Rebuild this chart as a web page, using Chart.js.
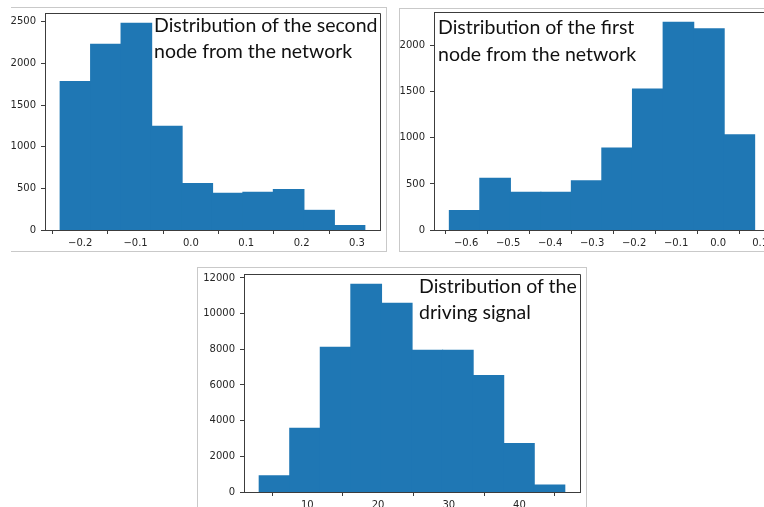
<!DOCTYPE html>
<html>
<head>
<meta charset="utf-8">
<script src="https://cdn.jsdelivr.net/npm/chart.js@4/dist/chart.umd.min.js"></script>
<style>
  html, body { margin: 0; padding: 0; background: #fff; }
  body { width: 764px; height: 507px; position: relative; overflow: hidden; }
  .panel { position: absolute; }
  .frame { position: absolute; border: 0 solid #c9c9c9; }
  .note { position: absolute; font-family: Lato, "Open Sans", sans-serif; font-size: 19.5px; line-height: 23px; color: #111; white-space: nowrap; pointer-events: none; }
</style>
</head>
<body>
  <div class="frame" style="left:11px;top:7px;width:375px;height:243px;border-top-width:1px;border-right-width:1px;border-bottom-width:1px"></div>
  <div class="frame" style="left:399px;top:8px;width:400px;height:242px;border-top-width:1px;border-left-width:1px;border-bottom-width:1px"></div>
  <div class="frame" style="left:197px;top:267px;width:388px;height:260px;border-top-width:1px;border-left-width:1px;border-right-width:1px"></div>

  <div class="panel" style="left:0px;top:0px"><canvas id="hist-second" width="384" height="252"></canvas></div>
  <div class="panel" style="left:389px;top:0px"><canvas id="hist-first" width="385" height="252"></canvas></div>
  <div class="panel" style="left:199px;top:261px"><canvas id="hist-drive" width="385" height="253"></canvas></div>

  <div class="note" style="left:154px;top:13px">Distribution of the second</div>
  <div class="note" style="left:154px;top:39px">node from the network</div>
  <div class="note" style="left:438px;top:15px">Distribution of the first</div>
  <div class="note" style="left:438px;top:42px">node from the network</div>
  <div class="note" style="left:419px;top:274px">Distribution of the</div>
  <div class="note" style="left:419px;top:300px">driving signal</div>

<script>
// second node (top left)
const secondEdges = [-0.236, -0.181, -0.126, -0.071, -0.016, 0.039, 0.094, 0.149, 0.204, 0.259, 0.314];
const secondCounts = [1782, 2229, 2480, 1244, 558, 439, 451, 486, 235, 52];
const secondXTicks = [-0.2, -0.1, 0.0, 0.1, 0.2, 0.3];
const secondYTicks = [0, 500, 1000, 1500, 2000, 2500];
const secondXRange = [-0.2635, 0.3415];
const secondYMax = 2604;

// first node (top right)
const firstEdges = [-0.640, -0.567, -0.495, -0.422, -0.349, -0.277, -0.204, -0.131, -0.058, 0.014, 0.087];
const firstCounts = [210, 562, 409, 409, 533, 888, 1529, 2254, 2185, 1033];
const firstXTicks = [-0.6, -0.5, -0.4, -0.3, -0.2, -0.1, 0.0, 0.1];
const firstYTicks = [0, 500, 1000, 1500, 2000];
const firstXRange = [-0.6765, 0.1235];
const firstYMax = 2367;

// driving signal (bottom)
const driveEdges = [3.2, 7.52, 11.84, 16.16, 20.48, 24.8, 29.12, 33.44, 37.76, 42.08, 46.4];
const driveCounts = [900, 3570, 8110, 11640, 10580, 7940, 7940, 6520, 2710, 380];
const driveXTicks = [10, 20, 30, 40];
const driveYTicks = [0, 2000, 4000, 6000, 8000, 10000, 12000];
const driveXRange = [1.04, 48.56];
const driveYMax = 12222;

const barColor = '#1f77b4';
const spineColor = '#3c3c3c';
const tickFont = { family: '"DejaVu Sans", sans-serif', size: 10 };

// closes the box: top and right spines
const framePlugin = {
  id: 'frame',
  afterDraw(chart) {
    const a = chart.chartArea, ctx = chart.ctx;
    ctx.save();
    ctx.strokeStyle = spineColor;
    ctx.lineWidth = 1;
    ctx.beginPath();
    ctx.moveTo(Math.round(a.left) + 0.5, Math.round(a.top) + 0.5);
    ctx.lineTo(Math.round(a.right) + 0.5, Math.round(a.top) + 0.5);
    ctx.lineTo(Math.round(a.right) + 0.5, Math.round(a.bottom) + 0.5);
    ctx.stroke();
    ctx.restore();
  }
};

function fmtTick(v, digits) {
  return v.toFixed(digits).replace('-', '\u2212');
}

function makeHist(id, edges, counts, xTicks, yTicks, xRange, yMax, digits, padTop) {
  const points = counts.map((c, i) => ({ x: (edges[i] + edges[i + 1]) / 2, y: c }));
  return new Chart(document.getElementById(id), {
    type: 'bar',
    data: {
      datasets: [{ data: points, backgroundColor: barColor, borderWidth: 0, inflateAmount: 0.6, barPercentage: 1, categoryPercentage: 1 }]
    },
    options: {
      responsive: false, animation: false, devicePixelRatio: 1,
      layout: { padding: { top: padTop, right: 4, left: 0, bottom: 0 } },
      plugins: { legend: { display: false }, tooltip: { enabled: false } },
      scales: {
        x: {
          type: 'linear', min: xRange[0], max: xRange[1], offset: false,
          afterBuildTicks: s => { s.ticks = xTicks.map(v => ({ value: v })); },
          afterFit: s => { s.height = 22; },
          grid: { drawOnChartArea: false, tickLength: 4, color: spineColor },
          border: { color: spineColor },
          ticks: { color: '#262626', font: tickFont, padding: 3, maxRotation: 0, autoSkip: false, callback: v => fmtTick(v, digits) }
        },
        y: {
          min: 0, max: yMax,
          afterBuildTicks: s => { s.ticks = yTicks.map(v => ({ value: v })); },
          afterFit: s => { s.width = 45; },
          grid: { drawOnChartArea: false, tickLength: 4, color: spineColor },
          border: { color: spineColor },
          ticks: { color: '#262626', font: tickFont, padding: 5, callback: v => String(v) }
        }
      }
    },
    plugins: [framePlugin]
  });
}

makeHist('hist-second', secondEdges, secondCounts, secondXTicks, secondYTicks, secondXRange, secondYMax, 1, 13);
makeHist('hist-first', firstEdges, firstCounts, firstXTicks, firstYTicks, firstXRange, firstYMax, 1, 12);
makeHist('hist-drive', driveEdges, driveCounts, driveXTicks, driveYTicks, driveXRange, driveYMax, 0, 13);
</script>
</body>
</html>
